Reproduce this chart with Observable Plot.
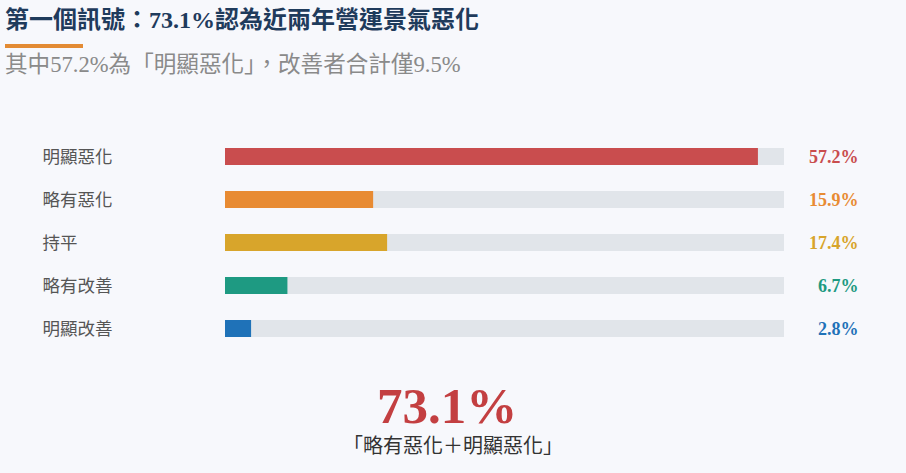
<!DOCTYPE html>
<html><head><meta charset="utf-8">
<script src="https://cdn.jsdelivr.net/npm/d3@7"></script>
<script src="https://cdn.jsdelivr.net/npm/@observablehq/plot@0.6"></script>
<style>
html,body{margin:0;padding:0;background:#f7f8fc;width:906px;height:473px;overflow:hidden;}
body{position:relative;font-family:"Liberation Serif","Noto Sans CJK TC",serif;}
#head{height:100px;position:relative;}
#title{position:absolute;left:5px;top:0px;font-size:24px;font-weight:bold;color:#1f3b5c;white-space:nowrap;}
#rule{position:absolute;left:5px;top:44px;width:78px;height:4px;background:#e38b34;}
#sub{position:absolute;left:5px;top:46px;font-size:22.6px;color:#8a8a8a;white-space:nowrap;}
#chart{height:260px;}
#foot{position:relative;height:113px;}
#big{position:absolute;left:0;width:894px;top:26px;text-align:center;font-size:51px;font-weight:bold;color:#c33f41;line-height:40px;}
#cap{position:absolute;left:0;width:906px;top:74px;text-align:center;font-size:20px;color:#333;line-height:24px;font-family:"Liberation Serif","Noto Sans CJK TC",sans-serif;}
</style></head>
<body>
<div id="head">
  <div id="title">第一個訊號：73.1%認為近兩年營運景氣惡化</div>
  <div id="rule"></div>
  <div id="sub">其中57.2%為「明顯惡化」，改善者合計僅9.5%</div>
</div>
<div id="chart"></div>
<div id="foot">
  <div id="big">73.1%</div>
  <div id="cap">「略有惡化＋明顯惡化」</div>
</div>
<script>
const categories = ["明顯惡化","略有惡化","持平","略有改善","明顯改善"];
const values = [57.2, 15.9, 17.4, 6.7, 2.8];
const colors = ["#c94d4e","#e88b33","#d8a52b","#1e9a82","#1f72b8"];
const valueLabels = ["57.2%","15.9%","17.4%","6.7%","2.8%"];
const axisMax = 60;

const data = categories.map((c,i)=>({cat:c, v:values[i], color:colors[i], label:valueLabels[i], max:axisMax}));

const chart = Plot.plot({
  width: 906,
  height: 260,
  marginLeft: 225,
  marginRight: 122,
  marginTop: 34,
  marginBottom: 9,
  style: {background: "transparent", fontFamily: "'Liberation Serif','Noto Sans CJK TC',serif"},
  x: {domain: [0, axisMax], axis: null},
  y: {domain: categories, axis: null, paddingInner: 0.6, paddingOuter: 0.3},
  marks: [
    Plot.barX(data, {y: "cat", x: "max", fill: "#e1e5ea"}),
    Plot.barX(data, {y: "cat", x: "v", fill: d => d.color}),
    Plot.text(data, {y: "cat", text: "cat", frameAnchor: "left", textAnchor: "start", dx: -183, fontSize: 17.5, fill: "#555", fontFamily: "'Noto Sans CJK TC',sans-serif"}),
    Plot.text(data, {y: "cat", text: "label", frameAnchor: "right", textAnchor: "end", dx: 74, fontSize: 18, fontWeight: "bold", fill: d => d.color})
  ]
});
document.getElementById("chart").appendChild(chart);
</script>
</body></html>
